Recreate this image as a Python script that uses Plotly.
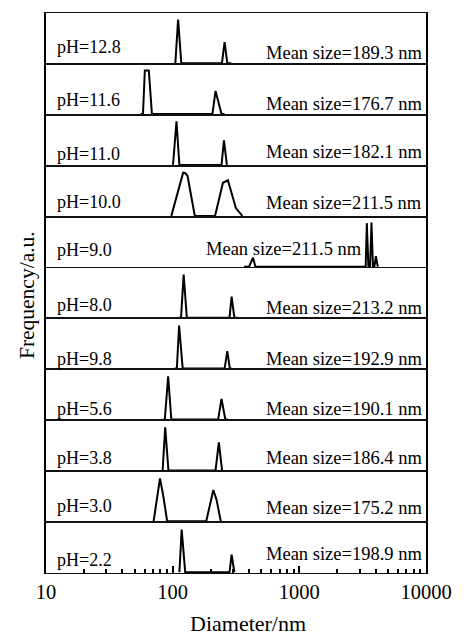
import plotly.graph_objects as go
from plotly.subplots import make_subplots

# ---- data ----
ph_labels = ["pH=12.8", "pH=11.6", "pH=11.0", "pH=10.0", "pH=9.0", "pH=8.0",
             "pH=9.8", "pH=5.6", "pH=3.8", "pH=3.0", "pH=2.2"]
mean_sizes = [189.3, 176.7, 182.1, 211.5, 211.5, 213.2, 192.9, 190.1, 186.4, 175.2, 198.9]

peak_diameters = [
    [105, 110.4, 117, 245, 257, 270, 290],
    [55.9, 58.3, 60.3, 64.8, 68.6, 206, 218, 243, 257],
    [100.6, 107.2, 113, 243, 254, 268],
    [97.6, 118.6, 121, 126, 131, 149.6, 216, 249.5, 273, 316, 345, 355],
    [366, 400, 431, 450, 3340, 3410, 3510, 3615, 3713, 3813, 3915, 4020, 4165],
    [111.6, 116.4, 122.1, 129.4, 281, 292, 307, 325],
    [103.5, 107.9, 112.4, 120, 257, 270, 282.5, 292],
    [84.3, 86.7, 92.1, 97.6, 228.6, 243, 260.6, 273],
    [83.3, 87.3, 92.6, 218, 231.5, 245.5],
    [70.7, 79.4, 84.3, 90.5, 184, 209.4, 222, 240],
    [113, 117.8, 125.6, 281, 292, 307],
]
peak_frequencies = [
    [0, 0.87, 0, 0, 0.42, 0, 0],
    [0, 0, 0.87, 0.87, 0, 0, 0.46, 0, 0],
    [0, 0.87, 0, 0, 0.49, 0],
    [0, 0.82, 0.86, 0.85, 0.80, 0, 0, 0.66, 0.71, 0.15, 0.05, 0],
    [0, 0, 0.18, 0, 0, 0.87, 0, 0, 0.88, 0, 0, 0.21, 0],
    [0, 0, 0.86, 0, 0, 0.42, 0, 0],
    [0, 0, 0.86, 0, 0, 0.35, 0, 0],
    [0, 0, 0.86, 0, 0, 0.41, 0, 0],
    [0, 0.86, 0, 0, 0.56, 0],
    [0, 0.855, 0.51, 0, 0, 0.625, 0.43, 0],
    [0, 0.85, 0, 0, 0.35, 0],
]

x_tick_values = [10, 100, 1000, 10000]
x_tick_labels = ["10", "100", "1000", "10000"]
minor_tick_values = [k * 10 ** e for e in (1, 2, 3) for k in range(2, 10)]

# ---- label placement (fraction of panel height above its bottom) ----
ph_label_y = [0.33, 0.285, 0.23, 0.29, 0.34, 0.26, 0.21, 0.22, 0.26, 0.31, 0.25]
mean_label_y = [0.21, 0.22, 0.27, 0.26, 0.37, 0.205, 0.20, 0.22, 0.26, 0.275, 0.37]

FONT = "'Liberation Serif', 'Times New Roman', Times, serif"
n = len(ph_labels)
fig = make_subplots(rows=n, cols=1, shared_xaxes=True, vertical_spacing=0)

annotations = []
for i in range(n):
    r = i + 1
    fig.add_trace(go.Scatter(x=peak_diameters[i], y=peak_frequencies[i], mode="lines",
                             line=dict(color="black", width=2), showlegend=False,
                             hoverinfo="skip"), row=r, col=1)
    suffix = "" if r == 1 else str(r)
    annotations.append(dict(text=ph_labels[i], xref=f"x{suffix} domain", yref=f"y{suffix} domain",
                            x=0.024, y=ph_label_y[i], xanchor="left", yanchor="middle",
                            showarrow=False, font=dict(family=FONT, size=18, color="black")))
    special = ph_labels[i] == "pH=9.0"
    annotations.append(dict(text=f"Mean size={mean_sizes[i]:.1f} nm",
                            xref=f"x{suffix} domain", yref=f"y{suffix} domain",
                            x=0.416 if special else 0.573, y=mean_label_y[i],
                            xanchor="left", yanchor="middle",
                            showarrow=False, font=dict(family=FONT, size=18.5, color="black")))

annotations.append(dict(text="Frequency/a.u.", xref="paper", yref="paper",
                        x=-0.048, y=0.378, xanchor="center", yanchor="bottom", textangle=-90,
                        showarrow=False, font=dict(family=FONT, size=21.5, color="black")))
annotations.append(dict(text="Diameter/nm", xref="paper", yref="paper",
                        x=0.374, y=-0.09, xanchor="left", yanchor="middle",
                        showarrow=False, font=dict(family=FONT, size=22, color="black")))

for r in range(1, n + 1):
    bottom = r == n
    fig.update_xaxes(type="log", range=[1, 4], showline=True, mirror=True, linecolor="#111111",
                     linewidth=1.3, showgrid=False, zeroline=False,
                     ticks="inside" if bottom else "", showticklabels=bottom,
                     row=r, col=1)
    fig.update_yaxes(range=[-0.015, 1.0], showline=True, mirror=True, linecolor="black",
                     linewidth=1.6, showgrid=False, zeroline=False, ticks="",
                     showticklabels=False, fixedrange=True, row=r, col=1)

fig.update_xaxes(tickvals=x_tick_values, ticktext=x_tick_labels, ticklen=7, tickwidth=1.5,
                 tickcolor="black", tickfont=dict(family=FONT, size=20.5, color="black"),
                 minor=dict(tickvals=minor_tick_values, ticks="inside", ticklen=3.5,
                            tickwidth=1.5, tickcolor="black", showgrid=False),
                 row=n, col=1)

fig.update_layout(width=464, height=636, margin=dict(l=46, r=26, t=13, b=63),
                  paper_bgcolor="white", plot_bgcolor="white", annotations=annotations,
                  font=dict(family=FONT, color="black"))

fig.write_html("out.html")
